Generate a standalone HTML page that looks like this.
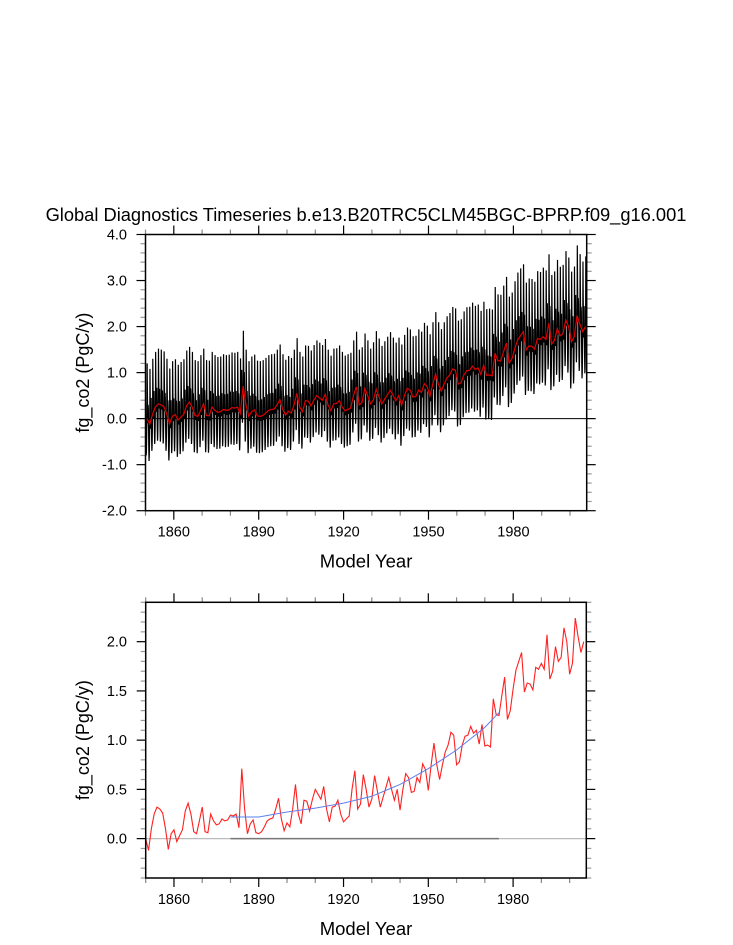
<!DOCTYPE html>
<html><head><meta charset="utf-8"><style>
html,body{margin:0;padding:0;background:#fff;}
svg{display:block;font-family:"Liberation Sans",Arial,sans-serif;}
</style></head><body>
<svg id="chart" width="733" height="945" viewBox="0 0 733 945" xmlns="http://www.w3.org/2000/svg">
<text x="366" y="221" font-size="18.3" text-anchor="middle">Global Diagnostics Timeseries b.e13.B20TRC5CLM45BGC-BPRP.f09_g16.001</text>
<g id="top"></g>
<g id="bot"></g>
</svg>
<script>
const startYear = 1850;
const annualValues = [0.00,-0.12,0.10,0.25,0.32,0.30,0.26,0.10,-0.11,0.05,
0.09,-0.03,0.03,0.09,0.28,0.36,0.25,0.07,0.05,0.18,
0.32,0.07,0.06,0.25,0.18,0.14,0.15,0.20,0.18,0.19,
0.24,0.23,0.25,0.11,0.71,0.30,0.05,0.15,0.19,0.06,
0.05,0.07,0.12,0.18,0.20,0.21,0.30,0.41,0.20,0.08,
0.16,0.12,0.30,0.55,0.25,0.15,0.39,0.38,0.28,0.40,
0.50,0.45,0.40,0.53,0.30,0.17,0.32,0.33,0.39,0.25,
0.17,0.20,0.23,0.50,0.69,0.30,0.35,0.65,0.50,0.32,
0.40,0.64,0.48,0.32,0.42,0.52,0.62,0.50,0.39,0.50,
0.29,0.50,0.66,0.62,0.47,0.48,0.62,0.57,0.76,0.70,
0.49,0.75,0.97,0.75,0.60,0.75,0.88,0.95,1.08,1.05,
0.75,0.78,0.95,1.04,1.05,1.14,1.07,1.10,0.96,1.16,
0.94,0.95,0.93,1.42,1.26,1.25,1.45,1.64,1.21,1.30,
1.52,1.71,1.80,1.89,1.49,1.58,1.57,1.51,1.74,1.72,
1.78,1.72,2.07,1.62,1.70,1.95,1.80,1.84,2.14,2.00,
1.67,1.78,2.24,2.05,1.89,2.00];
const seasonalCycle = [0.35,-0.1,-0.55,-0.8,-0.7,-0.4,0.0,1.2,0.6,0.2,-0.1,0.3];
const decadeAmplitude = [1.0,1.0,1.0,1.0,1.0,1.0,1.0,1.0,1.05,1.1,1.12,1.15,1.2,1.22,1.25,1.27];
const trendYears = [1880,1890,1900,1910,1920,1930,1940,1950,1960,1970,1975];
const trendValues = [0.22,0.22,0.27,0.31,0.36,0.43,0.55,0.71,0.90,1.13,1.28];
const xTickLabels = ["1860","1890","1920","1950","1980"];
const topYTicks = ["-2.0","-1.0","0.0","1.0","2.0","3.0","4.0"];
const botYTicks = ["0.0","0.5","1.0","1.5","2.0"];

const NS="http://www.w3.org/2000/svg";
function mk(parent,tag,attrs,text){const e=document.createElementNS(NS,tag);for(const k in attrs)e.setAttribute(k,attrs[k]);if(text!==undefined)e.textContent=text;parent.appendChild(e);return e;}

function panel(g,box,ymin,ymax,yMajor,yMinor,yLabels){
  const X0=1850,X1=2005.9;
  const sx=v=>box.l+(v-X0)/(X1-X0)*(box.r-box.l);
  const sy=v=>box.b-(v-ymin)/(ymax-ymin)*(box.b-box.t);
  for(let y=1850;y<=2000;y+=10){
    const major=(y-1860)%30===0;const L=major?9:5;const c=major?"#000":"#888";
    const t1=mk(g,"line",{x1:sx(y),x2:sx(y),y1:box.b,y2:box.b+L,stroke:c,"stroke-width":1.2});
    
    
    const t2=mk(g,"line",{x1:sx(y),x2:sx(y),y1:box.t,y2:box.t-L,stroke:c,"stroke-width":1.2});
    
    
  }
  xTickLabels.forEach(s=>{
    const t=mk(g,"text",{x:sx(+s),y:box.b+26,"font-size":14.5,"text-anchor":"middle"},s);
    
    
  });
  const n=Math.round((ymax-ymin)/yMinor);
  for(let i=0;i<=n;i++){
    const v=ymin+i*yMinor;const major=Math.abs(v/yMajor-Math.round(v/yMajor))<1e-6;
    const L=major?9:5;const c=major?"#000":"#999";
    const a=mk(g,"line",{x1:box.l,x2:box.l-L,y1:sy(v),y2:sy(v),stroke:c,"stroke-width":1.2});
    
    
    const b=mk(g,"line",{x1:box.r,x2:box.r+L,y1:sy(v),y2:sy(v),stroke:c,"stroke-width":1.2});
    
    
  }
  yLabels.forEach(s=>{
    const t=mk(g,"text",{x:127,y:sy(+s)+5,"font-size":14.5,"text-anchor":"end"},s);
    
    
  });
  const yt=mk(g,"text",{x:0,y:0,"font-size":18,"text-anchor":"middle",transform:`translate(89,${(box.t+box.b)/2}) rotate(-90)`},"fg_co2 (PgC/y)");
  
  
  const xt=mk(g,"text",{x:(box.l+box.r)/2,y:box.b+57,"font-size":18.5,"text-anchor":"middle"},"Model Year");
  
  
  return {sx,sy};
}

const gt=document.getElementById('top');
const tb={l:145.5,r:586.7,t:234.5,b:510.7};
const T=panel(gt,tb,-2,4,1,0.2,topYTicks);
let pts=[];
annualValues.forEach((v,i)=>{
  const amp=decadeAmplitude[Math.floor(i/10)];
  seasonalCycle.forEach((s,m)=>{pts.push(T.sx(startYear+i+m/12).toFixed(2)+","+T.sy(v+amp*s).toFixed(2));});
});
const ml=mk(gt,"polyline",{points:pts.join(" "),fill:"none",stroke:"#000","stroke-width":1.2});


const z=mk(gt,"line",{x1:tb.l,x2:tb.r,y1:T.sy(0),y2:T.sy(0),stroke:"#000","stroke-width":1});


const ar=mk(gt,"polyline",{points:annualValues.map((v,i)=>T.sx(startYear+i+0.5)+","+T.sy(v)).join(" "),fill:"none",stroke:"#e00000","stroke-width":1.2});


const f1=mk(gt,"rect",{x:tb.l,y:tb.t,width:tb.r-tb.l,height:tb.b-tb.t,fill:"none",stroke:"#000","stroke-width":1.5});



const gb=document.getElementById('bot');
const bb={l:145.7,r:586.3,t:602.3,b:878};
const B=panel(gb,bb,-0.4,2.4,0.5,0.1,botYTicks);
const z2=mk(gb,"line",{x1:bb.l,x2:bb.r,y1:B.sy(0),y2:B.sy(0),stroke:"#bbb","stroke-width":1.3});


const z3=mk(gb,"line",{x1:B.sx(trendYears[0]),x2:B.sx(trendYears[trendYears.length-1]),y1:B.sy(0),y2:B.sy(0),stroke:"#777","stroke-width":1.5});


const br=mk(gb,"polyline",{points:annualValues.map((v,i)=>B.sx(startYear+i)+","+B.sy(v)).join(" "),fill:"none",stroke:"#ff2020","stroke-width":1.1});


const tr=mk(gb,"polyline",{points:trendYears.map((y,i)=>B.sx(y)+","+B.sy(trendValues[i])).join(" "),fill:"none",stroke:"#5a80f0","stroke-width":1});


const f2=mk(gb,"rect",{x:bb.l,y:bb.t,width:bb.r-bb.l,height:bb.b-bb.t,fill:"none",stroke:"#000","stroke-width":1.5});


</script>
</body></html>
